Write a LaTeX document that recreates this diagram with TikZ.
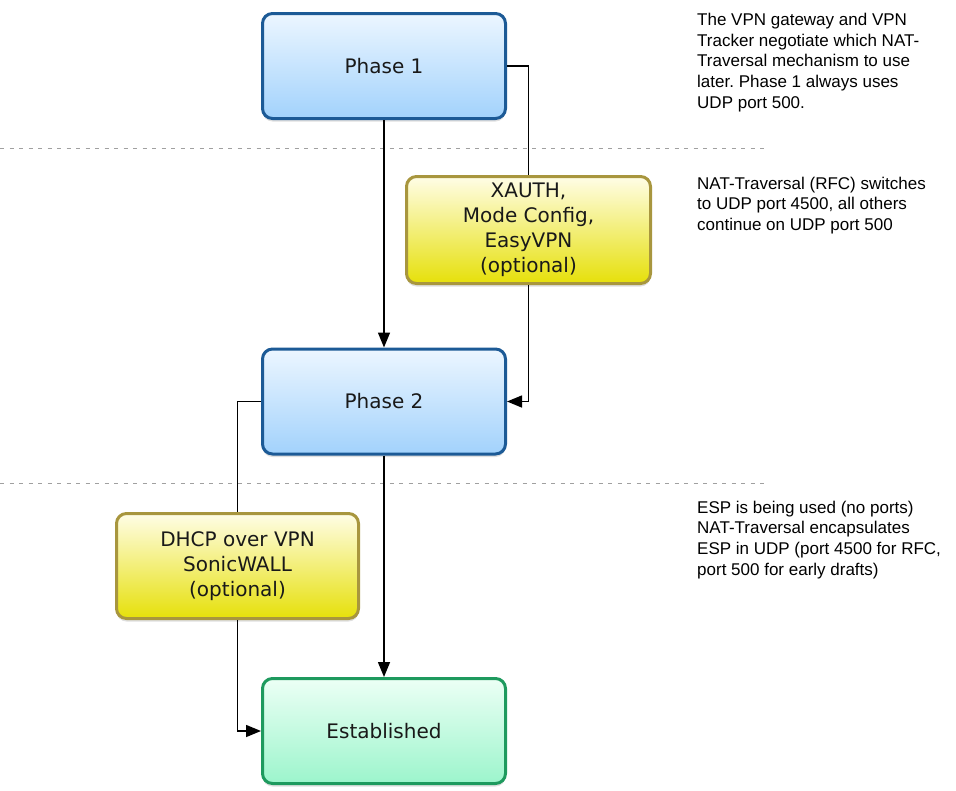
\documentclass[tikz,border=0pt]{standalone}
\usepackage{fontspec}
\setmainfont{DejaVu Sans}
\newfontfamily\helv{Liberation Sans}
\usetikzlibrary{arrows.meta,shadows}
\frenchspacing
\definecolor{bluebd}{RGB}{28,90,150}
\definecolor{bluetop}{RGB}{236,246,255}
\definecolor{bluebot}{RGB}{162,210,252}
\definecolor{yelbd}{RGB}{168,150,62}
\definecolor{yeltop}{RGB}{255,253,230}
\definecolor{yelbot}{RGB}{230,224,10}
\definecolor{grnbd}{RGB}{30,154,94}
\definecolor{grntop}{RGB}{236,255,245}
\definecolor{grnbot}{RGB}{156,245,204}
\definecolor{dashgray}{RGB}{160,160,160}
\tikzset{
  box/.style={draw, rounded corners=10pt, line width=3pt, minimum width=243pt,
    minimum height=105pt, align=center, inner sep=0pt,
    font=\fontsize{20}{25}\selectfont, text=black!90,
    drop shadow={shadow xshift=0pt, shadow yshift=-3pt, opacity=0.25}},
  bluebox/.style={box, draw=bluebd, top color=bluetop, bottom color=bluebot},
  yelbox/.style={box, draw=yelbd, top color=yeltop, bottom color=yelbot},
  grnbox/.style={box, draw=grnbd, top color=grntop, bottom color=grnbot},
  conn/.style={line width=1.5pt, black},
  arr/.style={conn, -{Triangle[length=15pt,width=12pt]}},
  sep/.style={dashgray, line width=1pt, dash pattern=on 4pt off 5.5pt},
  note/.style={anchor=north west, inner sep=0pt, align=left,
    font=\helv\fontsize{17}{20.8}\selectfont, text=black}
}
\begin{document}
\begin{tikzpicture}[x=1pt,y=-1pt]
\useasboundingbox (0,0) rectangle (956,790);
\draw[sep] (0,148) coordinate (s1a) -- (767,148) coordinate (s1b);
\draw[sep] (0,483) coordinate (s2a) -- (767,483) coordinate (s2b);

\node[bluebox] (p1) at (384,66) {Phase 1};
\node[yelbox, minimum width=244pt, minimum height=107pt] (x) at (528.5,230) {XAUTH,\\Mode Config,\\EasyVPN\\(optional)};
\node[bluebox] (p2) at (384,401.5) {Phase 2};
\node[yelbox, minimum width=242pt] (d) at (237.5,566) {DHCP over VPN\\SonicWALL\\(optional)};
\node[grnbox] (e) at (384,731) {Established};

\draw[arr] (p1.south) -- (p2.north);
\draw[conn] (p1.east) -| (x.north);
\draw[arr] (x.south) |- (p2.east);
\draw[arr] (p2.south) -- (e.north);
\draw[conn] (p2.west) -| (d.north);
\draw[arr] (d.south) |- (e.west);

\node[note] (n1) at (697,12.7) {The VPN gateway and VPN\\Tracker negotiate which NAT-\\Traversal mechanism to use\\later. Phase 1 always uses\\UDP port 500.};
\node[note] (n2) at (697,176.6) {NAT-Traversal (RFC) switches\\to UDP port 4500, all others\\continue on UDP port 500};
\node[note] (n3) at (697,500.5) {ESP is being used (no ports)\\NAT-Traversal encapsulates\\ESP in UDP (port 4500 for RFC,\\port 500 for early drafts)};
\end{tikzpicture}
\end{document}
